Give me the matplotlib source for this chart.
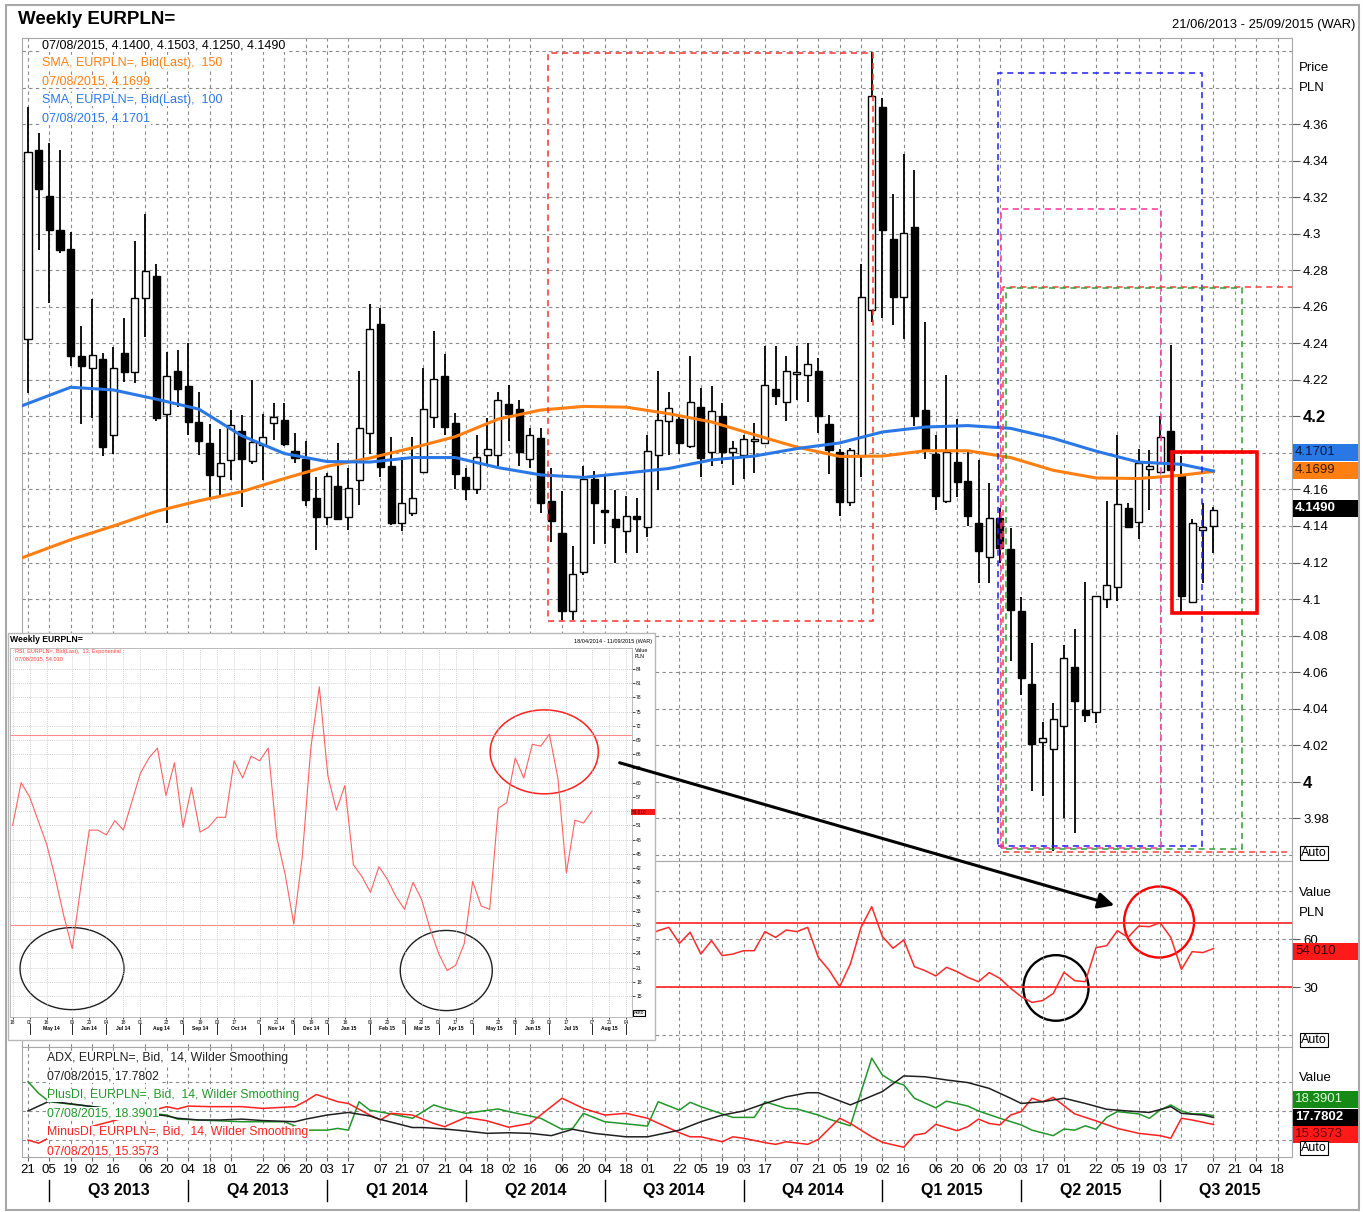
import numpy as np
import matplotlib
matplotlib.use('Agg')
import matplotlib.pyplot as plt
from matplotlib.patches import Rectangle, Ellipse, FancyArrowPatch
from datetime import date

W, H = 1365, 1212
plt.rcParams['font.family'] = ['Liberation Sans', 'DejaVu Sans']

START = date(2013, 6, 21)


def wk(s):
    d, m, y = map(int, s.split('/'))
    return (date(y, m, d) - START).days / 7.0


# ---- weekly candles, 21/06/2013 .. 07/08/2015 ----
opens = [4.2427, 4.3459, 4.3207, 4.3021, 4.2917, 4.2331, 4.2263, 4.2312, 4.1898, 4.2345,
         4.2241, 4.2647, 4.2771, 4.2013, 4.2248, 4.2168, 4.1971, 4.1852, 4.1675, 4.1761,
         4.1920, 4.1755, 4.1843, 4.1965, 4.1980, 4.1810, 4.1766, 4.1556, 4.1450, 4.1620,
         4.1450, 4.1651, 4.1912, 4.2504, 4.1730, 4.1417, 4.1472, 4.1697, 4.1998, 4.2223,
         4.1966, 4.1666, 4.1605, 4.1791, 4.1791, 4.2067, 4.2041, 4.1767, 4.1884, 4.1538,
         4.1362, 4.0936, 4.1149, 4.1656, 4.1478, 4.1437, 4.1372, 4.1457, 4.1392, 4.1787,
         4.1974, 4.1984, 4.1838, 4.2051, 4.1803, 4.2000, 4.1807, 4.1787, 4.1868, 4.1854,
         4.2152, 4.2081, 4.2235, 4.2227, 4.2249, 4.1960, 4.1803, 4.1530, 4.1783, 4.2582,
         4.3697, 4.2971, 4.2655, 4.3036, 4.2033, 4.1792, 4.1539, 4.1750, 4.1649, 4.1416,
         4.1232, 4.1443, 4.1273, 4.0936, 4.0533, 4.0218, 4.0177, 4.0305, 4.0629, 4.0393,
         4.0382, 4.1000, 4.1065, 4.1498, 4.1424, 4.1712, 4.1696, 4.1918, 4.1676, 4.0985,
         4.1380, 4.1400]
highs = [4.3697, 4.3554, 4.3496, 4.3459, 4.3012, 4.2495, 4.2643, 4.2345, 4.2378, 4.2541,
         4.2961, 4.3109, 4.2835, 4.2354, 4.2363, 4.2400, 4.2135, 4.1956, 4.1934, 4.2035,
         4.2007, 4.2199, 4.2013, 4.2075, 4.2071, 4.1907, 4.1865, 4.1669, 4.1693, 4.1852,
         4.1715, 4.2248, 4.2616, 4.2592, 4.1889, 4.1779, 4.1889, 4.2266, 4.2468, 4.2344,
         4.2020, 4.1716, 4.1899, 4.1994, 4.2132, 4.2172, 4.2091, 4.1939, 4.1939, 4.1716,
         4.1591, 4.1291, 4.1726, 4.1700, 4.1676, 4.1595, 4.1564, 4.1554, 4.1899, 4.2249,
         4.2132, 4.2010, 4.2330, 4.2156, 4.2166, 4.2071, 4.1868, 4.1899, 4.1966, 4.2385,
         4.2385, 4.2330, 4.2385, 4.2405, 4.2320, 4.2010, 4.1824, 4.1828, 4.2835, 4.3996,
         4.3747, 4.3217, 4.3440, 4.3349, 4.2518, 4.1901, 4.2225, 4.1986, 4.1814, 4.1759,
         4.1635, 4.1500, 4.1389, 4.1010, 4.0758, 4.0325, 4.0429, 4.0750, 4.0835, 4.1092,
         4.1018, 4.1539, 4.1901, 4.1526, 4.1822, 4.1814, 4.2005, 4.2389, 4.1781, 4.1438,
         4.1526, 4.1503]
lows = [4.2126, 4.2911, 4.2619, 4.2893, 4.2276, 4.1956, 4.1989, 4.1783, 4.1797, 4.2186,
        4.2181, 4.2437, 4.1974, 4.1414, 4.2053, 4.1898, 4.1788, 4.1540, 4.1558, 4.1651,
        4.1505, 4.1740, 4.1651, 4.1870, 4.1838, 4.1743, 4.1511, 4.1266, 4.1408, 4.1437,
        4.1377, 4.1514, 4.1797, 4.1669, 4.1405, 4.1372, 4.1454, 4.1691, 4.1938, 4.1899,
        4.1601, 4.1544, 4.1574, 4.1726, 4.1726, 4.1868, 4.1726, 4.1716, 4.1473, 4.1311,
        4.0886, 4.0886, 4.1129, 4.1301, 4.1301, 4.1200, 4.1250, 4.1250, 4.1341, 4.1595,
        4.1787, 4.1797, 4.1828, 4.1666, 4.1726, 4.1741, 4.1625, 4.1655, 4.1692, 4.1848,
        4.2061, 4.1974, 4.2091, 4.2081, 4.1909, 4.1686, 4.1457, 4.1510, 4.1666, 4.2517,
        4.2540, 4.2499, 4.2425, 4.1950, 4.1767, 4.1485, 4.1526, 4.1559, 4.1402, 4.1087,
        4.1087, 4.1200, 4.0662, 4.0475, 3.9949, 3.9922, 3.9620, 3.9798, 3.9721, 4.0325,
        4.0320, 4.0950, 4.0991, 4.1397, 4.1328, 4.1485, 4.1696, 4.1709, 4.0922, 4.0985,
        4.1087, 4.1250]
closes = [4.3447, 4.3244, 4.3021, 4.2911, 4.2331, 4.2276, 4.2336, 4.1834, 4.2263, 4.2241,
          4.2647, 4.2796, 4.1993, 4.2223, 4.2148, 4.1971, 4.1865, 4.1679, 4.1743, 4.1954,
          4.1766, 4.1861, 4.1889, 4.1998, 4.1847, 4.1770, 4.1540, 4.1450, 4.1675, 4.1437,
          4.1609, 4.1939, 4.2479, 4.1724, 4.1414, 4.1527, 4.1556, 4.2041, 4.2203, 4.1943,
          4.1686, 4.1605, 4.1777, 4.1822, 4.2091, 4.2016, 4.1807, 4.1899, 4.1524, 4.1429,
          4.0936, 4.1139, 4.1656, 4.1524, 4.1477, 4.1396, 4.1457, 4.1437, 4.1812, 4.1980,
          4.2045, 4.1854, 4.2077, 4.1773, 4.2030, 4.1803, 4.1828, 4.1874, 4.1870, 4.2172,
          4.2111, 4.2247, 4.2237, 4.2288, 4.2000, 4.1814, 4.1530, 4.1818, 4.2655, 4.3753,
          4.3020, 4.2655, 4.3006, 4.2000, 4.1822, 4.1567, 4.1805, 4.1641, 4.1457, 4.1265,
          4.1443, 4.1279, 4.0942, 4.0566, 4.0204, 4.0237, 4.0341, 4.0676, 4.0443, 4.0366,
          4.1018, 4.1079, 4.1520, 4.1397, 4.1745, 4.1728, 4.1888, 4.1709, 4.1018, 4.1416,
          4.1397, 4.1490]

# moving averages read at every 4th week
sma_weeks = [-0.5, 4, 8, 12, 16, 20, 24, 28, 32, 36, 40, 44, 48, 52, 56, 60, 64, 68,
             72, 76, 80, 84, 88, 92, 96, 100, 104, 108, 111]
sma100 = [4.2060, 4.2160, 4.2145, 4.2095, 4.2040, 4.1895, 4.1797, 4.1753, 4.1750, 4.1775,
          4.1775, 4.1720, 4.1680, 4.1666, 4.1690, 4.1715, 4.1762, 4.1783, 4.1824, 4.1855,
          4.1915, 4.1942, 4.1950, 4.1935, 4.1880, 4.1810, 4.1750, 4.1738, 4.1701]
sma150 = [4.1227, 4.1325, 4.1400, 4.1480, 4.1538, 4.1588, 4.1660, 4.1727, 4.1772, 4.1828,
          4.1889, 4.1985, 4.2035, 4.2055, 4.2051, 4.2015, 4.1970, 4.1900, 4.1832, 4.1781,
          4.1783, 4.1812, 4.1812, 4.1775, 4.1705, 4.1663, 4.1660, 4.1678, 4.1699]

# RSI(13), weeks 43 .. 111
rsi_first_week = 43
rsi = [51, 60, 57, 52, 47, 40, 32, 25, 38, 50, 50, 49, 52, 50, 56, 62,
       65.2, 67.3, 57.3, 64.2, 50.6, 59, 49.6, 50.6, 52.7, 52.7, 64.6, 61, 65.6, 64.6,
       67.3, 48.5, 40.6, 30.2, 44.4, 67.3, 80.2, 61.5, 54.2, 59.4, 42.7, 40.2, 36.9,
       42.3, 39.6, 36, 33.3, 39, 35.4, 29.2, 24, 20.4, 21.5, 26, 39.2, 34, 33.3, 54.6,
       55.8, 65.2, 61, 68.1, 67.7, 70.2, 61, 41, 52.1, 51.5, 54.01]

# ADX / DI (14, Wilder)
adx_weeks = [0, 2, 13, 14, 16, 18, 20, 22, 25, 26, 28, 30, 32, 33, 36, 37, 39, 41, 43, 45,
             47, 49, 51, 53, 56, 58, 61, 63, 65, 67, 69, 71, 73, 74, 77, 80, 82, 84, 86, 88,
             90, 92, 93, 95, 97, 99, 101, 103, 105, 107, 108, 110, 111]
adx = [20.0, 23.4, 18.3, 17.5, 16.9, 16.9, 17.2, 16.7, 16.3, 17.2, 18.6, 19.5, 18.3, 17.1,
       14.3, 14.3, 13.8, 13.1, 12.3, 12.5, 12.3, 11.5, 13.7, 12.3, 11.1, 11.1, 13.4, 16.3,
       18.6, 20.0, 22.6, 24.9, 26.3, 26.3, 22.1, 26.7, 32.1, 31.8, 30.7, 29.8, 27.8, 24.4,
       22.6, 23.2, 24.4, 22.6, 20.6, 20.0, 19.5, 21.5, 19.2, 18.6, 17.78]
pdi_weeks = [0, 1, 2, 13, 14, 16, 20, 24, 26, 28, 29, 30, 31, 32, 34, 36, 38, 39, 41, 44,
             45, 48, 50, 51, 52, 54, 57, 58, 59, 61, 62, 63, 65, 66, 68, 69, 71, 72, 74, 75,
             77, 79, 80, 81, 82, 83, 85, 86, 88, 89, 91, 93, 94, 96, 97, 98, 99, 100, 101,
             102, 104, 105, 106, 107, 108, 109, 110, 111]
pdi = [30.1, 26.1, 23.2, 18.6, 17.2, 16.9, 16.3, 16.3, 13.4, 13.4, 14.0, 13.4, 23.2, 20.3,
       19.0, 17.5, 22.1, 20.9, 19.2, 20.7, 19.8, 17.5, 13.7, 14.0, 19.2, 16.3, 15.2, 14.8,
       23.2, 20.3, 23.0, 21.5, 19.0, 17.8, 17.8, 23.2, 20.9, 20.7, 18.6, 17.2, 14.9, 38.2,
       32.4, 30.1, 29.0, 24.4, 21.1, 23.4, 21.7, 20.0, 17.5, 15.2, 13.4, 11.5, 13.8, 13.4,
       14.9, 13.7, 17.8, 19.8, 19.0, 17.5, 20.3, 22.1, 20.0, 19.0, 19.0, 18.39]
mdi_weeks = [0, 1, 2, 13, 14, 15, 17, 20, 22, 25, 26, 27, 29, 30, 32, 33, 34, 36, 38, 39,
             41, 43, 45, 47, 50, 52, 54, 56, 58, 61, 62, 63, 65, 66, 67, 69, 70, 71, 73, 74,
             76, 77, 79, 80, 82, 83, 84, 85, 87, 88, 89, 90, 91, 92, 93, 94, 95, 96, 98, 100,
             102, 104, 106, 107, 108, 109, 111]
mdi = [10.0, 8.9, 10.8, 21.5, 20.7, 21.7, 21.5, 21.5, 20.9, 21.5, 23.4, 25.7, 23.2, 22.6,
       18.6, 16.9, 19.2, 18.6, 15.7, 14.6, 17.8, 16.6, 14.4, 15.7, 24.4, 20.9, 18.6, 19.2,
       17.5, 12.5, 11.1, 11.1, 9.4, 11.1, 10.6, 9.1, 8.5, 9.4, 8.5, 10.2, 17.5, 15.7, 11.1,
       9.2, 7.5, 11.7, 12.3, 15.4, 13.2, 14.6, 17.2, 15.7, 15.2, 18.6, 19.8, 24.4, 23.2,
       24.7, 19.0, 16.6, 14.0, 12.3, 11.5, 10.6, 17.5, 16.9, 15.36]

tick_dates = ['21/06/2013', '05/07/2013', '19/07/2013', '02/08/2013', '16/08/2013', '06/09/2013',
              '20/09/2013', '04/10/2013', '18/10/2013', '01/11/2013', '22/11/2013', '06/12/2013',
              '20/12/2013', '03/01/2014', '17/01/2014', '07/02/2014', '21/02/2014', '07/03/2014',
              '21/03/2014', '04/04/2014', '18/04/2014', '02/05/2014', '16/05/2014', '06/06/2014',
              '20/06/2014', '04/07/2014', '18/07/2014', '01/08/2014', '22/08/2014', '05/09/2014',
              '19/09/2014', '03/10/2014', '17/10/2014', '07/11/2014', '21/11/2014', '05/12/2014',
              '19/12/2014', '02/01/2015', '16/01/2015', '06/02/2015', '20/02/2015', '06/03/2015',
              '20/03/2015', '03/04/2015', '17/04/2015', '01/05/2015', '22/05/2015', '05/06/2015',
              '19/06/2015', '03/07/2015', '17/07/2015', '07/08/2015', '21/08/2015', '04/09/2015',
              '18/09/2015']
quarter_starts = ['05/07/2013', '04/10/2013', '03/01/2014', '04/04/2014', '04/07/2014',
                  '03/10/2014', '02/01/2015', '03/04/2015', '03/07/2015', '02/10/2015']
quarter_names = ['Q3 2013', 'Q4 2013', 'Q1 2014', 'Q2 2014', 'Q3 2014', 'Q4 2014',
                 'Q1 2015', 'Q2 2015', 'Q3 2015']
month_starts = ['02/05/2014', '06/06/2014', '04/07/2014', '01/08/2014', '05/09/2014',
                '03/10/2014', '07/11/2014', '05/12/2014', '02/01/2015', '06/02/2015',
                '06/03/2015', '03/04/2015', '01/05/2015', '05/06/2015', '03/07/2015',
                '07/08/2015', '04/09/2015']
month_names = ['May 14', 'Jun 14', 'Jul 14', 'Aug 14', 'Sep 14', 'Oct 14', 'Nov 14', 'Dec 14',
               'Jan 15', 'Feb 15', 'Mar 15', 'Apr 15', 'May 15', 'Jun 15', 'Jul 15', 'Aug 15']
price_levels = [round(3.98 + 0.02 * k, 2) for k in range(20)]
inset_levels = [v for v in range(15, 87, 3) if v != 54]

ORANGE = '#ff7f12'
BLUE = '#2a78e6'
GRAY = '#a8a8a8'
GRID = dict(color='#8a8a8a', linestyle=(0, (3, 3)), linewidth=0.8)
XL = (-0.56, 118.35)

fig = plt.figure(figsize=(W / 100, H / 100), dpi=100)


def fbox(x0, y0, x1, y1):
    return [x0 / W, 1 - y1 / H, (x1 - x0) / W, (y1 - y0) / H]


def fxy(x, y):
    return (x / W, 1 - y / H)


def ftext(x, y, s, **kw):
    kw.setdefault('va', 'center')
    kw.setdefault('ha', 'left')
    return fig.text(x / W, 1 - y / H, s, **kw)


def tag(y, s, fc, tc, bold=False):
    fig.add_artist(Rectangle(fxy(1293, y + 8.5), 65 / W, 17 / H, transform=fig.transFigure,
                             fc=fc, ec='none', zorder=8))
    ftext(1295, y, s, color=tc, fontsize=9.5, weight='bold' if bold else 'normal', zorder=9)


def auto_box(x, y, size=9):
    ftext(x, y, 'Auto', fontsize=size, zorder=9,
          bbox=dict(fc='white', ec='black', lw=0.8, pad=0.6))


fig.add_artist(Rectangle(fxy(6, 1210), 1353 / W, 1205 / H, transform=fig.transFigure,
                         fill=False, ec=GRAY, lw=1.5))

tick_x = [wk(d) for d in tick_dates]
tick_lab = [d[:2] for d in tick_dates]


def style_panel(a):
    a.set_xlim(XL)
    for sp in a.spines.values():
        sp.set_color(GRAY)
    a.set_xticks(tick_x)
    a.grid(True, axis='x', **GRID)
    a.tick_params(axis='x', length=0, labelbottom=False)
    a.yaxis.tick_right()
    a.tick_params(axis='y', direction='out', length=6, color='#606060', labelsize=9.5, pad=2)


# ---------------- price panel ----------------
ax = fig.add_axes(fbox(22, 38, 1292, 861))
style_panel(ax)
ax.set_ylim(3.9565, 4.4073)
for lv in [3.96, 4.38, 4.40] + price_levels:
    ax.axhline(lv, zorder=0, **GRID)
ax.set_yticks(price_levels)
# 4.18 sits under the coloured value tags, so it has no label
ax.set_yticklabels(['' if v == 4.18 else '%g' % v for v in price_levels])
for lab in ax.get_yticklabels():
    if lab.get_text() in ('4', '4.2'):
        lab.set_fontweight('bold')
        lab.set_fontsize(12)

wx = np.arange(len(opens))
o, hi, lo, c = map(np.array, (opens, highs, lows, closes))
ax.vlines(wx, lo, hi, color='black', lw=1.3, zorder=3)
ax.bar(wx, np.maximum(np.abs(c - o), 0.0009), bottom=np.minimum(o, c), width=0.66,
       color=np.where(c >= o, 'white', 'black'), edgecolor='black', linewidth=1, zorder=4)
ax.plot(sma_weeks, sma150, color=ORANGE, lw=2.2, zorder=5)
ax.plot(sma_weeks, sma100, color=BLUE, lw=2.2, zorder=5)

dash = (0, (4, 3))
for (x0, x1, y0, y1, col) in [(48.7, 79.1, 4.0881, 4.399, '#ff3030'),
                              (90.8, 109.9, 3.9647, 4.388, '#2020ff'),
                              (91.1, 106.1, 3.9636, 4.3135, '#ff3399'),
                              (91.3, 119.0, 3.9614, 4.2707, '#ff4040'),
                              (91.6, 113.7, 3.9630, 4.2702, '#30a030')]:
    ax.add_patch(Rectangle((x0, y0), x1 - x0, y1 - y0, fill=False, ec=col, lw=1.1,
                           linestyle=dash, zorder=6))
ax.add_patch(Rectangle((107.1, 4.0925), 8.0, 0.0883, fill=False, ec='#ff0000', lw=2.6, zorder=7))

legend_main = [('07/08/2015, 4.1400, 4.1503, 4.1250, 4.1490', 'black'),
               ('SMA, EURPLN=, Bid(Last),  150', ORANGE),
               ('07/08/2015, 4.1699', ORANGE),
               ('SMA, EURPLN=, Bid(Last),  100', BLUE),
               ('07/08/2015, 4.1701', BLUE)]
for k, (s, col) in enumerate(legend_main):
    ftext(42, 45 + 18.3 * k, s, color=col, fontsize=9.0, zorder=4,
          bbox=dict(fc='white', ec='none', pad=0.4))

ftext(18, 20, 'Weekly EURPLN=', fontsize=13.5, weight='bold')
ftext(1355, 25, '21/06/2013 - 25/09/2015 (WAR)', fontsize=9.3, ha='right')
ftext(1299, 68, 'Price', fontsize=9.5)
ftext(1299, 88, 'PLN', fontsize=9.5)
tag(452, '4.1701', '#2a78e6', '#0a1a40')
tag(470, '4.1699', '#ff7f12', '#3a1a00')
tag(508, '4.1490', 'black', 'white', bold=True)
auto_box(1301, 853)

# ---------------- RSI panel ----------------
ar = fig.add_axes(fbox(22, 861, 1292, 1047))
style_panel(ar)
ar.set_ylim(-7.5, 108.75)
for lv in (0, 30, 60, 90):
    ar.axhline(lv, zorder=0, **GRID)
ar.set_yticks([30, 60])
ar.set_yticklabels(['30', '60'])
ar.axhline(70, color='#ff3030', lw=1.3)
ar.axhline(30, color='#ff3030', lw=1.3)
rsi_x = np.arange(len(rsi)) + rsi_first_week
ar.plot(rsi_x, rsi, color='#ff2a2a', lw=1.1)
ar.add_patch(Ellipse((96.25, 29.4), 6.1, 41, fill=False, ec='black', lw=1.7))
ar.add_patch(Ellipse((105.9, 70.6), 6.55, 44.4, fill=False, ec='#ff0000', lw=1.7))
ftext(1299, 893, 'Value', fontsize=9.5)
ftext(1299, 913, 'PLN', fontsize=9.5)
tag(951, '54.010', '#ff1a1a', '#300000')
auto_box(1301, 1040)

# ---------------- ADX panel ----------------
ad = fig.add_axes(fbox(22, 1047, 1292, 1157))
style_panel(ad)
ad.set_ylim(4.14, 42.07)
for lv in (10, 20, 30):
    ad.axhline(lv, zorder=0, **GRID)
ad.set_yticks([])
ad.plot(pdi_weeks, pdi, color='#22962a', lw=1.1)
ad.plot(mdi_weeks, mdi, color='#ff2020', lw=1.1)
ad.plot(adx_weeks, adx, color='#202020', lw=1.1)
ad.tick_params(axis='x', labelbottom=True, length=3, direction='out', color='#606060',
               labelsize=9.5, pad=2)
ad.set_xticklabels(tick_lab)
legend_adx = [('ADX, EURPLN=, Bid,  14, Wilder Smoothing', '#202020'),
              ('07/08/2015, 17.7802', '#202020'),
              ('PlusDI, EURPLN=, Bid,  14, Wilder Smoothing', '#22962a'),
              ('07/08/2015, 18.3901', '#22962a'),
              ('MinusDI, EURPLN=, Bid,  14, Wilder Smoothing', '#ff2020'),
              ('07/08/2015, 15.3573', '#ff2020')]
for k, (s, col) in enumerate(legend_adx):
    ftext(47, 1058 + 18.6 * k, s, color=col, fontsize=8.8, zorder=4,
          bbox=dict(fc='white', ec='none', pad=0.3))
ftext(1299, 1078, 'Value', fontsize=9.5)
tag(1099, '18.3901', '#168a16', '#d8ffd8')
tag(1117, '17.7802', 'black', 'white', bold=True)
tag(1134, '15.3573', '#ff1a1a', '#700000')
auto_box(1301, 1148)

qx = [wk(d) for d in quarter_starts]
xt = ad.get_xaxis_transform()
for k, name in enumerate(quarter_names):
    ad.text((qx[k] + qx[k + 1]) / 2, -0.30, name, transform=xt, ha='center', va='center',
            fontsize=11.5, weight='bold', clip_on=False)
for q in qx[:-1]:
    ad.plot([q, q], [-0.21, -0.40], transform=xt, color='black', lw=1, clip_on=False)

# ---------------- pasted RSI window ----------------
fig.add_artist(Rectangle(fxy(8, 1040), 647 / W, 407 / H, transform=fig.transFigure,
                         fc='white', ec='#b8b8b8', lw=1, zorder=5))
ai = fig.add_axes(fbox(10, 648, 632, 1017), zorder=6)
ai.set_xlim(-0.305, 72.7)
ai.set_ylim(10.6, 88.4)
for sp in ai.spines.values():
    sp.set_color('#b0b0b0')
    sp.set_linewidth(0.6)
GRIDI = dict(color='#c4c4c4', linestyle=(0, (1, 1.5)), linewidth=0.6)
in_win = [k for k, t in enumerate(tick_x) if rsi_first_week - 0.1 < t < rsi_first_week + 73]
ai.set_xticks([tick_x[k] - rsi_first_week for k in in_win])
ai.set_xticklabels([tick_lab[k] for k in in_win])
ai.grid(True, axis='x', **GRIDI)
for lv in range(15, 87, 3):
    ai.axhline(lv, zorder=0, **GRIDI)
ai.yaxis.tick_right()
ai.set_yticks(inset_levels)
ai.set_yticklabels([str(v) for v in inset_levels])
ai.tick_params(axis='y', direction='out', length=2, width=0.5, labelsize=3.6, pad=1)
ai.tick_params(axis='x', direction='out', length=1.5, width=0.5, labelsize=3.4, pad=1)
ai.axhline(70, color='#ff8a8a', lw=0.8)
ai.axhline(30, color='#ff8a8a', lw=0.8)
ai.plot(np.arange(len(rsi)), rsi, color='#ff6060', lw=0.8)
ai.add_patch(Ellipse((6.97, 20.8), 12.2, 17.3, fill=False, ec='#202020', lw=1.0))
ai.add_patch(Ellipse((50.9, 20.4), 10.8, 16.9, fill=False, ec='#202020', lw=1.0))
ai.add_patch(Ellipse((62.4, 66.5), 12.7, 17.7, fill=False, ec='#ff2020', lw=1.1))
mx = [wk(d) - rsi_first_week for d in month_starts]
xti = ai.get_xaxis_transform()
for k, name in enumerate(month_names):
    ai.text((mx[k] + mx[k + 1]) / 2, -0.03, name, transform=xti, ha='center', va='center',
            fontsize=3.6, weight='bold', clip_on=False)
for m in mx:
    ai.plot([m, m], [-0.018, -0.045], transform=xti, color='black', lw=0.6, clip_on=False)

ftext(10, 640, 'Weekly EURPLN=', fontsize=6.2, weight='bold', zorder=7)
ftext(652, 642, '18/04/2014 - 11/09/2015 (WAR)', fontsize=4, ha='right', zorder=7)
ftext(15, 652, 'RSI, EURPLN=, Bid(Last),  13, Exponential', fontsize=4, color='#ff4040', zorder=7)
ftext(15, 659, '07/08/2015, 54.010', fontsize=4, color='#ff4040', zorder=7)
ftext(635, 650, 'Value', fontsize=3.8, zorder=7)
ftext(635, 657, 'PLN', fontsize=3.8, zorder=7)
fig.add_artist(Rectangle(fxy(631, 815), 24 / W, 6 / H, transform=fig.transFigure,
                         fc='#ff1a1a', ec='none', zorder=8))
ftext(632, 812, '54.010', fontsize=3.4, color='#400000', zorder=9)
auto_box(634, 1013, size=3.6)

fig.add_artist(FancyArrowPatch(fxy(617, 762), fxy(1117, 906), transform=fig.transFigure,
                               arrowstyle='-|>', mutation_scale=24, lw=2.2, color='black',
                               zorder=10))

fig.savefig('out.png', dpi=100)
